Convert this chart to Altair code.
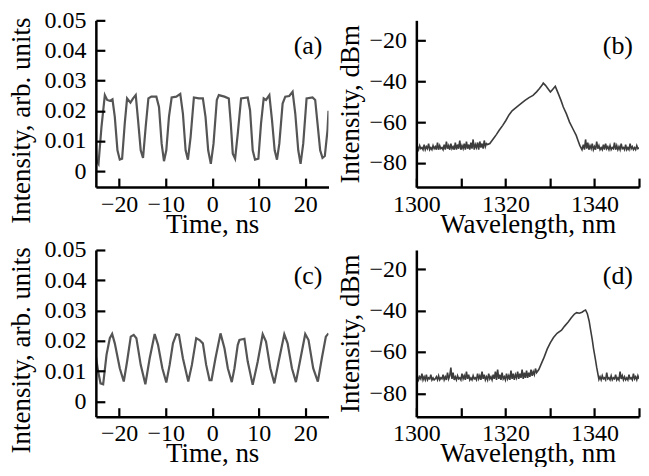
import altair as alt
import pandas as pd
import numpy as np

# ---------------- data ----------------
# (a) time trace
a_t = [-25.0, -24.86, -24.43, -23.79, -23.07, -22.57, -22.0, -21.43, -20.93, -20.36,
       -19.86, -19.36, -18.79, -18.29, -17.57, -17.0, -16.43, -15.93, -15.36, -14.86,
       -14.29, -13.71, -13.07, -12.0, -11.43, -10.86, -10.36, -9.86, -9.29, -8.71,
       -7.71, -6.86, -6.29, -5.71, -5.21, -4.64, -3.93, -2.86, -2.0, -1.43,
       -0.86, -0.29, 0.29, 1.0, 1.43, 2.64, 3.57, 4.0, 4.43, 4.93,
       5.5, 6.21, 7.64, 8.14, 8.71, 9.21, 9.93, 10.5, 11.07, 11.57,
       12.29, 12.86, 13.43, 13.93, 14.43, 15.14, 15.71, 16.57, 17.29, 17.86,
       18.5, 19.0, 19.57, 20.29, 21.57, 22.14, 22.64, 23.21, 23.71, 24.21,
       24.79, 25.0]
a_v = [0.008, 0.0036, 0.0024, 0.0147, 0.0252, 0.0236, 0.0233, 0.0238, 0.018, 0.0069,
       0.0038, 0.0041, 0.0158, 0.0241, 0.0227, 0.0241, 0.0252, 0.0169, 0.0069, 0.0044,
       0.0147, 0.0241, 0.0247, 0.0247, 0.0213, 0.0091, 0.0033, 0.0069, 0.018, 0.0244,
       0.0247, 0.0256, 0.0191, 0.0069, 0.0038, 0.0113, 0.0244, 0.0241, 0.0241, 0.018,
       0.0069, 0.0024, 0.0091, 0.0236, 0.0252, 0.0247, 0.0241, 0.0158, 0.0058, 0.0041,
       0.0124, 0.0241, 0.0244, 0.0202, 0.0069, 0.0038, 0.0041, 0.0158, 0.0241, 0.0236,
       0.0252, 0.0169, 0.0069, 0.0038, 0.0091, 0.0224, 0.0247, 0.0249, 0.0263, 0.0191,
       0.0069, 0.0024, 0.0091, 0.0241, 0.0244, 0.0236, 0.0158, 0.0069, 0.0044, 0.005,
       0.0136, 0.020]

# (c) time trace
c_t = [-25.0, -24.5, -24.0, -23.43, -22.71, -22.0, -21.5, -20.93, -19.86, -19.0,
       -18.29, -17.5, -16.86, -16.29, -15.36, -14.36, -13.43, -12.36, -11.64, -10.71,
       -9.86, -9.14, -8.43, -7.71, -7.14, -6.29, -5.14, -4.36, -3.43, -2.71,
       -2.0, -1.29, -0.57, -0.14, 0.71, 1.79, 2.64, 3.36, 4.21, 4.79,
       5.5, 5.86, 6.93, 7.64, 8.71, 9.79, 10.86, 11.57, 12.5, 13.36,
       14.29, 15.5, 16.21, 17.14, 18.0, 18.86, 20.0, 20.71, 21.71, 22.71,
       23.57, 24.43, 25.0]
c_v = [0.015, 0.0099, 0.006, 0.0057, 0.0154, 0.0209, 0.0223, 0.0192, 0.011, 0.0066,
       0.0132, 0.0214, 0.022, 0.0209, 0.0121, 0.0057, 0.0143, 0.0223, 0.0187, 0.011,
       0.0063, 0.0121, 0.0192, 0.0222, 0.022, 0.0143, 0.0066, 0.0121, 0.0209, 0.0203,
       0.0192, 0.0121, 0.0071, 0.0071, 0.0143, 0.0225, 0.0176, 0.011, 0.0064, 0.011,
       0.0187, 0.0203, 0.0207, 0.0132, 0.0055, 0.0132, 0.0222, 0.0198, 0.011, 0.006,
       0.0132, 0.0222, 0.0192, 0.011, 0.0064, 0.0132, 0.0223, 0.0203, 0.011, 0.0066,
       0.0143, 0.0214, 0.0225]

# (b) spectrum: noise floor left (1300..1316, step 0.25), peak, noise floor right (1337.5..1350)
b_floor_left = [-73.5, -72.0, -73.5, -71.5, -73.0, -72.5, -73.5, -71.0, -73.5, -72.0,
                -73.0, -70.5, -73.5, -72.5, -73.5, -71.5, -73.0, -72.0, -73.5, -70.0,
                -73.5, -71.5, -73.0, -72.5, -73.5, -71.0, -73.5, -69.5, -73.0, -71.5,
                -73.5, -70.5, -73.0, -72.0, -73.5, -70.0, -73.5, -71.0, -73.0, -69.0,
                -73.5, -71.5, -73.0, -70.5, -73.5, -69.5, -73.0, -71.0, -73.5, -70.0,
                -73.0, -68.5, -73.5, -71.0, -72.5, -70.0, -73.5, -69.5, -72.5, -70.5,
                -73.0, -69.0, -72.0, -70.5, -71.0]
b_peak_nm = [1316.5, 1317.0, 1317.5, 1318.0, 1318.6, 1319.4, 1320.1, 1320.8, 1321.5, 1322.1,
             1323.2, 1324.4, 1325.3, 1326.2, 1327.0, 1327.6, 1328.2, 1328.5, 1329.0, 1329.4,
             1330.1, 1330.6, 1331.2, 1331.9, 1332.5, 1333.0, 1333.7, 1334.4, 1335.2, 1335.9,
             1336.3, 1336.7, 1337.2]
b_peak_db = [-70.5, -69.0, -67.5, -66.0, -64.0, -61.6, -59.2, -56.5, -54.5, -53.4,
             -51.5, -49.4, -48.0, -46.9, -45.2, -43.7, -42.0, -40.9, -42.0, -43.2,
             -45.3, -44.0, -42.5, -46.2, -49.5, -52.6, -56.0, -60.0, -63.5, -66.5,
             -69.0, -71.4, -73.5]
b_floor_right = [-71.0, -73.5, -68.5, -73.0, -70.0, -73.5, -71.5, -73.0, -70.5, -73.5,
                 -72.0, -73.5, -69.5, -73.0, -71.5, -73.5, -72.5, -73.5, -71.0, -73.5,
                 -70.5, -73.0, -72.0, -73.5, -71.5, -73.5, -72.5, -73.0, -70.0, -73.5,
                 -71.5, -73.5, -72.0, -73.5, -70.5, -73.0, -72.5, -73.5, -71.0, -73.5,
                 -72.5, -73.5, -70.5, -73.0, -72.0, -73.5, -72.5, -73.5, -71.5, -73.0, -72.5]

# (d) spectrum: noise floor left (1300..1327, step 0.25), peak, noise floor right (1341.25..1350)
d_floor_left = [-73.0, -71.5, -73.5, -72.0, -73.0, -70.5, -73.5, -72.0, -73.5, -71.0,
                -73.5, -72.5, -73.0, -71.0, -73.5, -72.5, -73.5, -73.0, -72.0, -73.5,
                -71.5, -73.5, -72.5, -73.0, -71.0, -73.5, -72.0, -73.5, -70.0, -73.0,
                -71.5, -67.5, -73.0, -70.0, -73.5, -72.0, -73.5, -71.5, -73.0, -72.5,
                -73.5, -70.5, -73.0, -71.5, -73.5, -69.5, -73.0, -71.0, -73.5, -72.5,
                -73.5, -71.5, -73.0, -72.5, -73.5, -70.5, -73.0, -71.5, -73.5, -69.5,
                -73.0, -71.0, -73.5, -72.0, -73.5, -70.5, -73.0, -72.0, -73.5, -71.0,
                -73.0, -69.5, -73.5, -68.5, -73.0, -71.0, -73.5, -70.0, -73.0, -72.0,
                -73.5, -70.5, -73.0, -71.5, -73.5, -69.0, -73.0, -70.5, -73.5, -71.0,
                -72.5, -69.5, -73.0, -70.5, -72.5, -68.5, -73.0, -70.0, -72.5, -69.0,
                -72.5, -70.0, -72.0, -68.5, -71.5, -69.5, -71.0, -68.0, -70.0]
d_peak_nm = [1327.5, 1328.0, 1328.7, 1329.4, 1330.1, 1330.8, 1331.6, 1332.6, 1333.3, 1334.1,
             1334.8, 1335.5, 1336.0, 1336.6, 1337.2, 1337.7, 1338.0, 1338.4, 1338.8, 1339.1,
             1339.5, 1339.8, 1340.2, 1340.5, 1340.8, 1341.0]
d_peak_db = [-68.5, -66.0, -62.5, -58.5, -55.5, -53.0, -51.0, -49.5, -47.5, -45.5,
             -43.5, -41.7, -41.0, -41.3, -40.8, -40.0, -39.7, -41.5, -45.0, -49.0,
             -54.0, -58.5, -63.5, -67.5, -71.0, -73.3]
d_floor_right = [-72.0, -73.5, -71.5, -73.0, -72.5, -73.5, -70.0, -73.0, -72.5, -73.5,
                 -71.5, -73.5, -72.5, -73.0, -71.0, -73.5, -72.5, -73.5, -69.5, -73.0,
                 -71.5, -73.5, -72.0, -73.5, -72.5, -73.5, -71.0, -73.0, -72.5, -73.5,
                 -70.5, -73.0, -72.0, -73.5, -71.5, -73.0]

time_ticks = [-20, -10, 0, 10, 20]
time_yticks = [0, 0.01, 0.02, 0.03, 0.04, 0.05]
wl_ticks = [1300, 1310, 1320, 1330, 1340, 1350]
db_ticks = [-20, -40, -60, -80]
panel_labels = ["(a)", "(b)", "(c)", "(d)"]

# ---------------- styling ----------------
FONT = "Liberation Serif"
WL, WR, H = 233, 223, 167
LABEL_FS = 24
TITLE_FS = 27
TICK_LEN = 9
INWARD = {"expr": "-9"}   # inward ticks (negative tick size, given as an expression)


def spectrum_df(floor_left, left_start, peak_nm, peak_db, floor_right, right_start):
    xl = left_start + 0.25 * np.arange(len(floor_left))
    xr = right_start + 0.25 * np.arange(len(floor_right))
    x = np.concatenate([xl, np.array(peak_nm), xr])
    y = np.concatenate([np.array(floor_left), np.array(peak_db), np.array(floor_right)])
    return pd.DataFrame({"x": x, "y": y})


def panel(df, xdom, ydom, xticks, xlabel_expr, yticks, ylabel_expr, xtitle, ytitle,
          label, width, color, sw, title_x, title_y):
    xs = alt.Scale(domain=xdom, nice=False, zero=False)
    ys = alt.Scale(domain=ydom, nice=False, zero=False)
    xaxis = alt.Axis(
        values=xticks, labelExpr=xlabel_expr, ticks=True, tickSize=INWARD,
        tickWidth=2.2, tickColor="black", grid=False, zindex=1,
        labelPadding=5 + TICK_LEN, labelFlush=False, labelFont=FONT, labelFontSize=LABEL_FS,
        title=xtitle, titleFont=FONT, titleFontSize=TITLE_FS, titleFontWeight="normal",
        titleY=45, titleBaseline="alphabetic",
        domainColor="black", domainWidth=2.5, labelColor="black", titleColor="black")
    ykw = dict(
        values=yticks, ticks=True, tickSize=INWARD, tickWidth=2.2, tickColor="black",
        grid=False, zindex=1, labelPadding=10 + TICK_LEN,
        labelFlush=False, labelFont=FONT, labelFontSize=LABEL_FS, labelExpr=ylabel_expr,
        title=ytitle, titleFont=FONT, titleFontSize=TITLE_FS, titleFontWeight="normal",
        titleX=title_x, titleBaseline="alphabetic", titleAngle=270,
        domainColor="black", domainWidth=2.5, labelColor="black", titleColor="black")
    if title_y is not None:
        ykw["titleY"] = title_y
    yaxis = alt.Axis(**ykw)

    line = alt.Chart(df).mark_line(color=color, strokeWidth=sw, clip=True).encode(
        x=alt.X("x:Q", scale=xs, axis=xaxis, title=xtitle),
        y=alt.Y("y:Q", scale=ys, axis=yaxis, title=ytitle),
    )
    txt = alt.Chart(pd.DataFrame({"t": [label]})).mark_text(
        font=FONT, fontSize=26, align="right", baseline="middle", color="black").encode(
        text="t:N", x=alt.value(width - 6), y=alt.value(26))
    return alt.layer(line, txt).properties(width=width, height=H)


ylab_time = "datum.value == 0 ? '0' : format(datum.value, '.2f')"
xlab_time = "format(datum.value, 'd')"
xlab_wl = "datum.value % 20 == 0 ? format(datum.value, 'd') : ''"
ylab_db = "format(datum.value, 'd')"

pa = panel(pd.DataFrame({"x": a_t, "y": a_v}), [-25, 25], [-0.0053, 0.05],
           time_ticks, xlab_time, time_yticks, ylab_time,
           "Time, ns", "Intensity, arb. units", panel_labels[0], WL, "#555555", 2.2, -66, 100)
pc = panel(pd.DataFrame({"x": c_t, "y": c_v}), [-25, 25], [-0.005, 0.05],
           time_ticks, xlab_time, time_yticks, ylab_time,
           "Time, ns", "Intensity, arb. units", panel_labels[2], WL, "#555555", 2.2, -66, 100)
pb = panel(spectrum_df(b_floor_left, 1300.0, b_peak_nm, b_peak_db, b_floor_right, 1337.5),
           [1300, 1350], [-91.8, -10.2], wl_ticks, xlab_wl, db_ticks, ylab_db,
           "Wavelength, nm", "Intensity, dBm", panel_labels[1], WR, "#3c3c3c", 1.6, -58, None)
pd_ = panel(spectrum_df(d_floor_left, 1300.0, d_peak_nm, d_peak_db, d_floor_right, 1341.25),
            [1300, 1350], [-91.3, -10.7], wl_ticks, xlab_wl, db_ticks, ylab_db,
            "Wavelength, nm", "Intensity, dBm", panel_labels[3], WR, "#3c3c3c", 1.6, -58, None)

chart = alt.concat(
    pa, pb, pc, pd_, columns=2, bounds="flush",
    spacing={"row": 63, "column": 88},
).properties(
    padding={"left": 0, "top": 0, "right": 0, "bottom": 0},
    background="white",
).configure_view(stroke=None)

chart.save("out.html", embed_options={"renderer": "svg", "actions": False})
